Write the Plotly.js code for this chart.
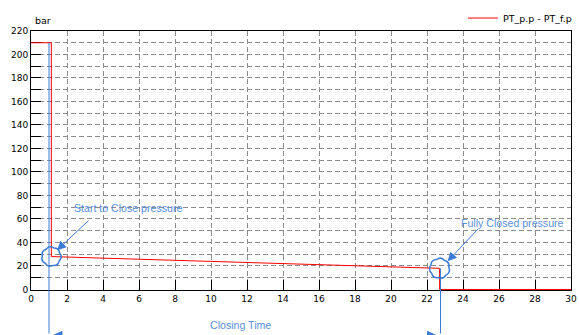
<!DOCTYPE html>
<html><head><meta charset="utf-8">
<script src="https://cdn.plot.ly/plotly-3.0.1.min.js"></script>
<style>html,body{margin:0;padding:0;background:#fff}#chart{width:579px;height:335px}</style>
</head><body><div id="chart"></div>
<script>
// ---- data ----
const timeS = [0, 1.13, 1.13, 22.7, 22.7, 30];
const pressureBar = [210, 210, 28, 18, 0, 0];
const seriesName = 'PT_p.p - PT_f.p';
const unitLabel = 'bar';
const xTicks = [0, 2, 4, 6, 8, 10, 12, 14, 16, 18, 20, 22, 24, 26, 28, 30];
const yTicks = [0, 20, 40, 60, 80, 100, 120, 140, 160, 180, 200, 220];
const startTime = 1.0;      // start of closing (marker line)
const closedTime = 22.75;   // fully closed (marker line)
const labelStart = 'Start to Close pressure';
const labelClosed = 'Fully Closed pressure';
const labelClosing = 'Closing Time';

// ---- styles ----
const blue = '#3b7bd6';
const textBlue = '#5b90dc';
const gridCol = '#8c8c8c';
const tickFont = {family: 'DejaVu Sans', size: 9, color: '#000'};
const noteFont = {family: 'Liberation Sans, Arial, sans-serif', size: 10.6, color: textBlue};
const dimY = -0.183;   // paper position of the closing-time dimension line (just below the image)

function cloud(r, n, bulge, rot) {
  let d = '';
  for (let i = 0; i <= n; i++) {
    const a = 2 * Math.PI * i / n + rot;
    const x = r * Math.cos(a), y = r * Math.sin(a);
    if (i === 0) d += 'M' + x.toFixed(2) + ',' + y.toFixed(2);
    else {
      const am = 2 * Math.PI * (i - 0.5) / n + rot;
      d += 'Q' + (bulge * r * Math.cos(am)).toFixed(2) + ',' + (bulge * r * Math.sin(am)).toFixed(2) +
           ' ' + x.toFixed(2) + ',' + y.toFixed(2);
    }
  }
  return d + 'Z';
}

const trace = {
  x: timeS, y: pressureBar, name: seriesName, type: 'scatter', mode: 'lines',
  line: {color: '#ff0000', width: 1}, showlegend: true
};

const shapes = [
  {type: 'path', xref: 'x', yref: 'y', xsizemode: 'pixel', ysizemode: 'pixel',
   xanchor: timeS[2], yanchor: pressureBar[2], path: cloud(9, 7, 1.3, 0.4),
   line: {color: blue, width: 1.5}},
  {type: 'path', xref: 'x', yref: 'y', xsizemode: 'pixel', ysizemode: 'pixel',
   xanchor: timeS[3], yanchor: pressureBar[3], path: cloud(9.3, 7, 1.3, 1.0),
   line: {color: blue, width: 1.5}},
  // closing-time dimension line with arrowheads
  {type: 'line', xref: 'x', yref: 'paper', x0: startTime, x1: closedTime, y0: dimY, y1: dimY,
   line: {color: blue, width: 1}},
  {type: 'path', xref: 'x', yref: 'paper', xsizemode: 'pixel', ysizemode: 'pixel',
   xanchor: startTime, yanchor: dimY, path: 'M0,0L13,6L13,-6Z',
   fillcolor: blue, line: {color: blue, width: 1}},
  {type: 'path', xref: 'x', yref: 'paper', xsizemode: 'pixel', ysizemode: 'pixel',
   xanchor: closedTime, yanchor: dimY, path: 'M0,0L-13,6L-13,-6Z',
   fillcolor: blue, line: {color: blue, width: 1}}
];

const annotations = [
  {xref: 'paper', yref: 'paper', x: 0.004, y: 1.042, xanchor: 'left', yanchor: 'middle',
   text: unitLabel, showarrow: false, font: {family: 'DejaVu Sans', size: 9.5, color: '#000'}},
  // blue marker lines
  {x: startTime, y: pressureBar[0], ax: 0, ay: 300, text: '', showarrow: true,
   arrowhead: 0, arrowwidth: 1, arrowcolor: blue},
  {x: closedTime, y: pressureBar[3], ax: 0, ay: 120, text: '', showarrow: true,
   arrowhead: 0, arrowwidth: 1, arrowcolor: blue},
  // pointer arrows
  {x: timeS[2], y: pressureBar[2], xshift: 5.7, yshift: 6.4, ax: 33, ay: -31, text: '',
   showarrow: true, arrowhead: 2, arrowsize: 1.8, arrowwidth: 1, arrowcolor: blue},
  {x: timeS[3], y: pressureBar[3], xshift: 8, yshift: 7, ax: 32, ay: -34, text: '',
   showarrow: true, arrowhead: 2, arrowsize: 1.8, arrowwidth: 1, arrowcolor: blue},
  // labels
  {x: 5.38, y: 69.6, text: labelStart, showarrow: false, font: noteFont},
  {x: 26.75, y: 56.9, text: labelClosed, showarrow: false, font: noteFont},
  {xref: 'x', yref: 'paper', x: 11.65, y: -0.165, text: labelClosing, showarrow: false, font: noteFont}
];

const layout = {
  width: 579, height: 335,
  margin: {l: 31, r: 8, t: 31, b: 45, pad: 0, autoexpand: false},
  paper_bgcolor: '#fff', plot_bgcolor: '#fff',
  showlegend: true,
  legend: {x: 1.011, xanchor: 'right', y: 1.05, yanchor: 'middle', bgcolor: 'rgba(0,0,0,0)',
           font: {family: 'DejaVu Sans', size: 9.5, color: '#000'}},
  xaxis: {range: [0, 30], tickmode: 'array', tickvals: xTicks, ticks: 'inside', ticklen: 10,
          tickcolor: '#000', tickwidth: 1, showline: true, linecolor: '#000', linewidth: 1, mirror: true,
          showgrid: true, gridcolor: gridCol, griddash: '5px,3px', gridwidth: 1, zeroline: false,
          tickfont: tickFont, layer: 'below traces', fixedrange: true, automargin: false},
  yaxis: {range: [-0.45, 220], tickmode: 'array', tickvals: yTicks, ticks: 'inside', ticklen: 10,
          tickcolor: '#000', tickwidth: 1, showline: true, linecolor: '#000', linewidth: 1, mirror: true,
          showgrid: true, gridcolor: gridCol, griddash: '5px,3px', gridwidth: 1, zeroline: false,
          tickfont: tickFont, layer: 'below traces', fixedrange: true, automargin: false,
          minor: {dtick: 10, ticks: 'inside', ticklen: 10, tickcolor: '#000', tickwidth: 1,
                  showgrid: true, gridcolor: gridCol, griddash: '5px,3px', gridwidth: 1}},
  shapes: shapes,
  annotations: annotations
};

Plotly.newPlot('chart', [trace], layout, {displayModeBar: false, staticPlot: true});
</script>
</body></html>
